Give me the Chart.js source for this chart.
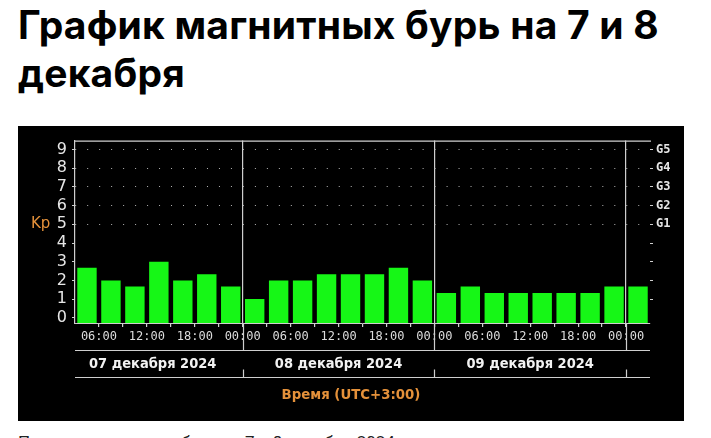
<!DOCTYPE html>
<html lang="ru">
<head>
<meta charset="utf-8">
<script src="https://cdn.jsdelivr.net/npm/chart.js@4.4.1/dist/chart.umd.min.js"></script>
<style>
  html, body { margin: 0; padding: 0; background: #fff; overflow: hidden; }
  body { width: 711px; height: 438px; position: relative; }
  h1 { position: absolute; left: 18px; top: 1px; margin: 0; font: 700 39px/47.5px Inter, sans-serif; color: #000; letter-spacing: 0.2px; }
  .panel { position: absolute; left: 18px; top: 126px; width: 666px; height: 295px; background: #000; }
  .caption { position: absolute; left: 18px; top: 432px; font: 17px Roboto, sans-serif; color: #222; white-space: nowrap; }
</style>
</head>
<body>
<h1>График магнитных бурь на 7 и 8<br>декабря</h1>
<div class="panel"><canvas id="chart" width="666" height="295"></canvas></div>
<div class="caption">Прогноз магнитных бурь на 7 и 8 декабря 2024</div>
<script>
// 3-hour slots (start time, UTC+3)
const slots = [
  '07 03:00', '07 06:00', '07 09:00', '07 12:00', '07 15:00', '07 18:00', '07 21:00',
  '08 00:00', '08 03:00', '08 06:00', '08 09:00', '08 12:00', '08 15:00', '08 18:00', '08 21:00',
  '09 00:00', '09 03:00', '09 06:00', '09 09:00', '09 12:00', '09 15:00', '09 18:00', '09 21:00',
  '10 00:00'
];
const kpValues = [
  2.67, 2, 1.67, 3, 2, 2.33, 1.67,
  1, 2, 2, 2.33, 2.33, 2.33, 2.67, 2,
  1.33, 1.67, 1.33, 1.33, 1.33, 1.33, 1.33, 1.67,
  1.67
];
const timeTickHours = [6, 12, 18, 24, 30, 36, 42, 48, 54, 60, 66, 72];
const timeTickLabels = ['06:00', '12:00', '18:00', '00:00', '06:00', '12:00', '18:00', '00:00', '06:00', '12:00', '18:00', '00:00'];
const dayLabels = ['07 декабря 2024', '08 декабря 2024', '09 декабря 2024'];
const dayBoundaries = [24, 48, 72];
const kpTicks = [0, 1, 2, 3, 4, 5, 6, 7, 8, 9];
const gLabels = ['', '', '', '', '', 'G1', 'G2', 'G3', 'G4', 'G5'];

const X_MIN = 3, X_MAX = 75, Y_MIN = -0.28, Y_MAX = 9.48;
const lineColor = '#cfcfcf';
const orange = '#e4913a';

function slotHour(s) {
  const day = parseInt(s.slice(0, 2), 10) - 7;
  const hour = parseInt(s.slice(3, 5), 10);
  return day * 24 + hour + 1.5;
}

const bandPlugin = {
  id: 'band',
  afterDraw(chart) {
    const ctx = chart.ctx;
    const xs = chart.scales.x;
    const ys = chart.scales.y;
    const area = chart.chartArea;
    const line1 = 224, line2 = 251.5;
    ctx.save();
    ctx.strokeStyle = lineColor;
    ctx.lineWidth = 1.2;
    ctx.beginPath();
    ctx.moveTo(area.left, area.top + 0.5);
    ctx.lineTo(area.right + 1, area.top + 0.5);
    dayBoundaries.forEach(h => {
      const px = Math.round(xs.getPixelForValue(h)) + 0.5;
      ctx.moveTo(px, area.bottom);
      ctx.lineTo(px, line1);
      ctx.moveTo(px, line2 - 8);
      ctx.lineTo(px, line2);
    });
    ctx.moveTo(area.left, line1 + 0.5);
    ctx.lineTo(area.right, line1 + 0.5);
    ctx.moveTo(area.left, line2);
    ctx.lineTo(area.right, line2);
    ctx.stroke();

    ctx.fillStyle = '#f2f2f2';
    ctx.font = 'bold 14.5px "DejaVu Sans Condensed"';
    ctx.textAlign = 'center';
    ctx.textBaseline = 'middle';
    dayLabels.forEach((lab, i) => {
      const w = ctx.measureText(lab).width;
      let cx = xs.getPixelForValue(i * 24 + 12);
      cx = Math.max(cx, area.left + w / 2 + 14);
      ctx.fillText(lab, cx, 238);
    });

    ctx.fillStyle = orange;
    ctx.font = 'bold 14.8px "DejaVu Sans Condensed"';
    ctx.fillText('Время (UTC+3:00)', chart.width / 2, 269);

    ctx.font = '15px "DejaVu Sans"';
    ctx.textAlign = 'left';
    ctx.fillText('Kp', 13, ys.getPixelForValue(5));
    ctx.restore();
  }
};

new Chart(document.getElementById('chart'), {
  type: 'bar',
  data: {
    datasets: [{
      data: slots.map((s, i) => ({ x: slotHour(s), y: kpValues[i] })),
      backgroundColor: '#16f716',
      borderWidth: 0,
      base: Y_MIN,
      barPercentage: 0.81,
      categoryPercentage: 1
    }]
  },
  options: {
    responsive: false,
    animation: false,
    layout: { padding: { top: 8, left: 0, right: 0, bottom: 0 } },
    plugins: { legend: { display: false }, tooltip: { enabled: false } },
    scales: {
      x: {
        type: 'linear',
        min: X_MIN,
        max: X_MAX,
        offset: false,
        afterBuildTicks: s => {
          const t = [];
          for (let h = 6; h <= 72; h += 3) t.push({ value: h });
          s.ticks = t;
        },
        afterFit: s => { s.height = 98; },
        ticks: {
          autoSkip: false,
          maxRotation: 0,
          padding: 2.5,
          color: '#dcdcdc',
          font: { family: '"DejaVu Sans Mono"', size: 12 },
          callback: v => {
            const i = timeTickHours.indexOf(v);
            return i >= 0 ? timeTickLabels[i] : '';
          }
        },
        grid: {
          offset: false,
          color: c => (c.tick && dayBoundaries.includes(c.tick.value)) ? lineColor : 'transparent',
          lineWidth: 1.2,
          tickColor: lineColor,
          tickLength: 4
        },
        border: { display: true, color: lineColor }
      },
      y: {
        min: Y_MIN,
        max: Y_MAX,
        afterBuildTicks: s => { s.ticks = kpTicks.map(v => ({ value: v })); },
        afterFit: s => { s.width = 57; },
        ticks: {
          autoSkip: false,
          color: '#e6e6e6',
          padding: 5,
          font: { family: '"DejaVu Sans"', size: 16 },
          callback: v => String(v)
        },
        grid: {
          color: c => (c.tick && c.tick.value >= 5) ? '#b4b4b4' : 'transparent',
          tickColor: lineColor,
          tickLength: 3
        },
        border: { display: true, color: lineColor, width: 1.2, dash: [1, 10.98], dashOffset: 0 }
      },
      g: {
        position: 'right',
        min: Y_MIN,
        max: Y_MAX,
        afterBuildTicks: s => { s.ticks = kpTicks.slice(1).map(v => ({ value: v })); },
        afterFit: s => { s.width = 34; },
        ticks: {
          autoSkip: false,
          color: '#e6e6e6',
          padding: 3,
          font: { family: '"DejaVu Sans Mono"', size: 12, weight: 'bold' },
          callback: v => gLabels[v] || ''
        },
        grid: { drawOnChartArea: false, tickColor: lineColor, tickLength: 3 },
        border: { display: false }
      }
    }
  },
  plugins: [bandPlugin]
});
</script>
</body>
</html>
